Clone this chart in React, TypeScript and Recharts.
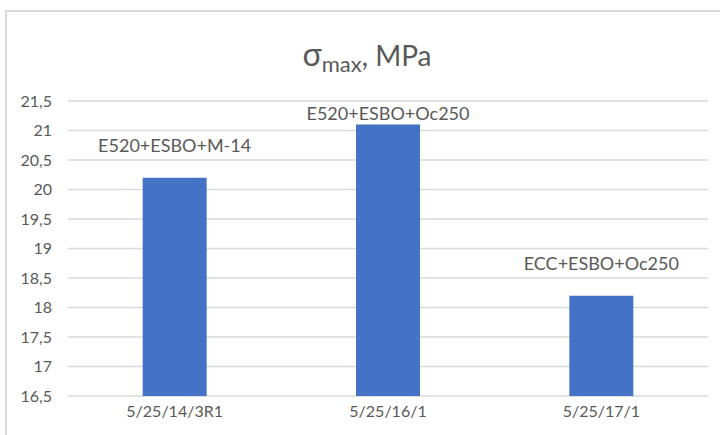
import React from 'react';
import {
  BarChart,
  Bar,
  XAxis,
  YAxis,
  CartesianGrid,
  LabelList,
} from 'recharts';

const SAMPLES = ['5/25/14/3R1', '5/25/16/1', '5/25/17/1'];
const SIGMA_MAX = [20.2, 21.1, 18.2];
const COMPOSITIONS = ['E520+ESBO+M-14', 'E520+ESBO+Oc250', 'ECC+ESBO+Oc250'];
const Y_TICKS = [16.5, 17, 17.5, 18, 18.5, 19, 19.5, 20, 20.5, 21, 21.5];

// label heights above bar top differ per bar in the original (hand-placed)
const LABEL_GAP = [33, 12, 33];

const FONT = 'Lato, "Open Sans", sans-serif';
const TEXT = '#595959';
const GRID = '#d9d9d9';
const BAR = '#4472c4';

const data = SAMPLES.map((name, i) => ({
  name,
  value: SIGMA_MAX[i],
  comp: COMPOSITIONS[i],
}));

const fmt = (v: number) => String(v).replace('.', ',');

const CompLabel = (props: any) => {
  const { x, y, width, index, value } = props;
  return (
    <text
      x={x + width / 2}
      y={y - LABEL_GAP[index]}
      textAnchor="middle"
      dominantBaseline="central"
      fill={TEXT}
      fontSize={18}
      fontFamily={FONT}
    >
      {value}
    </text>
  );
};

export default function App() {
  return (
    <div style={{ position: 'absolute', left: 0, top: 0, width: 720, height: 435, background: '#fff' }}>
      <div
        style={{
          position: 'absolute',
          left: 5,
          top: 10,
          width: 720,
          height: 430,
          borderLeft: `2px solid ${GRID}`,
          borderTop: `2px solid ${GRID}`,
        }}
      />
      <div
        style={{
          position: 'absolute',
          left: 0,
          width: 734,
          top: 36,
          textAlign: 'center',
          fontFamily: FONT,
          color: TEXT,
          fontSize: 28,
          lineHeight: '36px',
          whiteSpace: 'nowrap',
        }}
      >
        <span style={{ fontSize: 32 }}>σ</span>
        <sub style={{ fontSize: 22, verticalAlign: '-6px' }}>max</sub>, MPa
      </div>
      <div style={{ position: 'absolute', left: 0, top: 0 }}>
        <BarChart
          width={720}
          height={435}
          data={data}
          margin={{ top: 101, right: 12, bottom: 0, left: 0 }}
          barCategoryGap="35%"
        >
          <CartesianGrid vertical={false} stroke={GRID} strokeWidth={1.5} />
          <XAxis
            dataKey="name"
            axisLine={false}
            tickLine={false}
            height={39}
            tickMargin={4}
            tick={{ fill: TEXT, fontSize: 16, fontFamily: FONT }}
          />
          <YAxis
            domain={[16.5, 21.5]}
            ticks={Y_TICKS}
            interval={0}
            width={68}
            axisLine={false}
            tickLine={false}
            tickSize={8}
            tickMargin={8}
            tickFormatter={fmt}
            tick={{ fill: TEXT, fontSize: 16, fontFamily: FONT }}
          />
          <Bar dataKey="value" fill={BAR} isAnimationActive={false}>
            <LabelList dataKey="comp" content={<CompLabel />} />
          </Bar>
        </BarChart>
      </div>
    </div>
  );
}
